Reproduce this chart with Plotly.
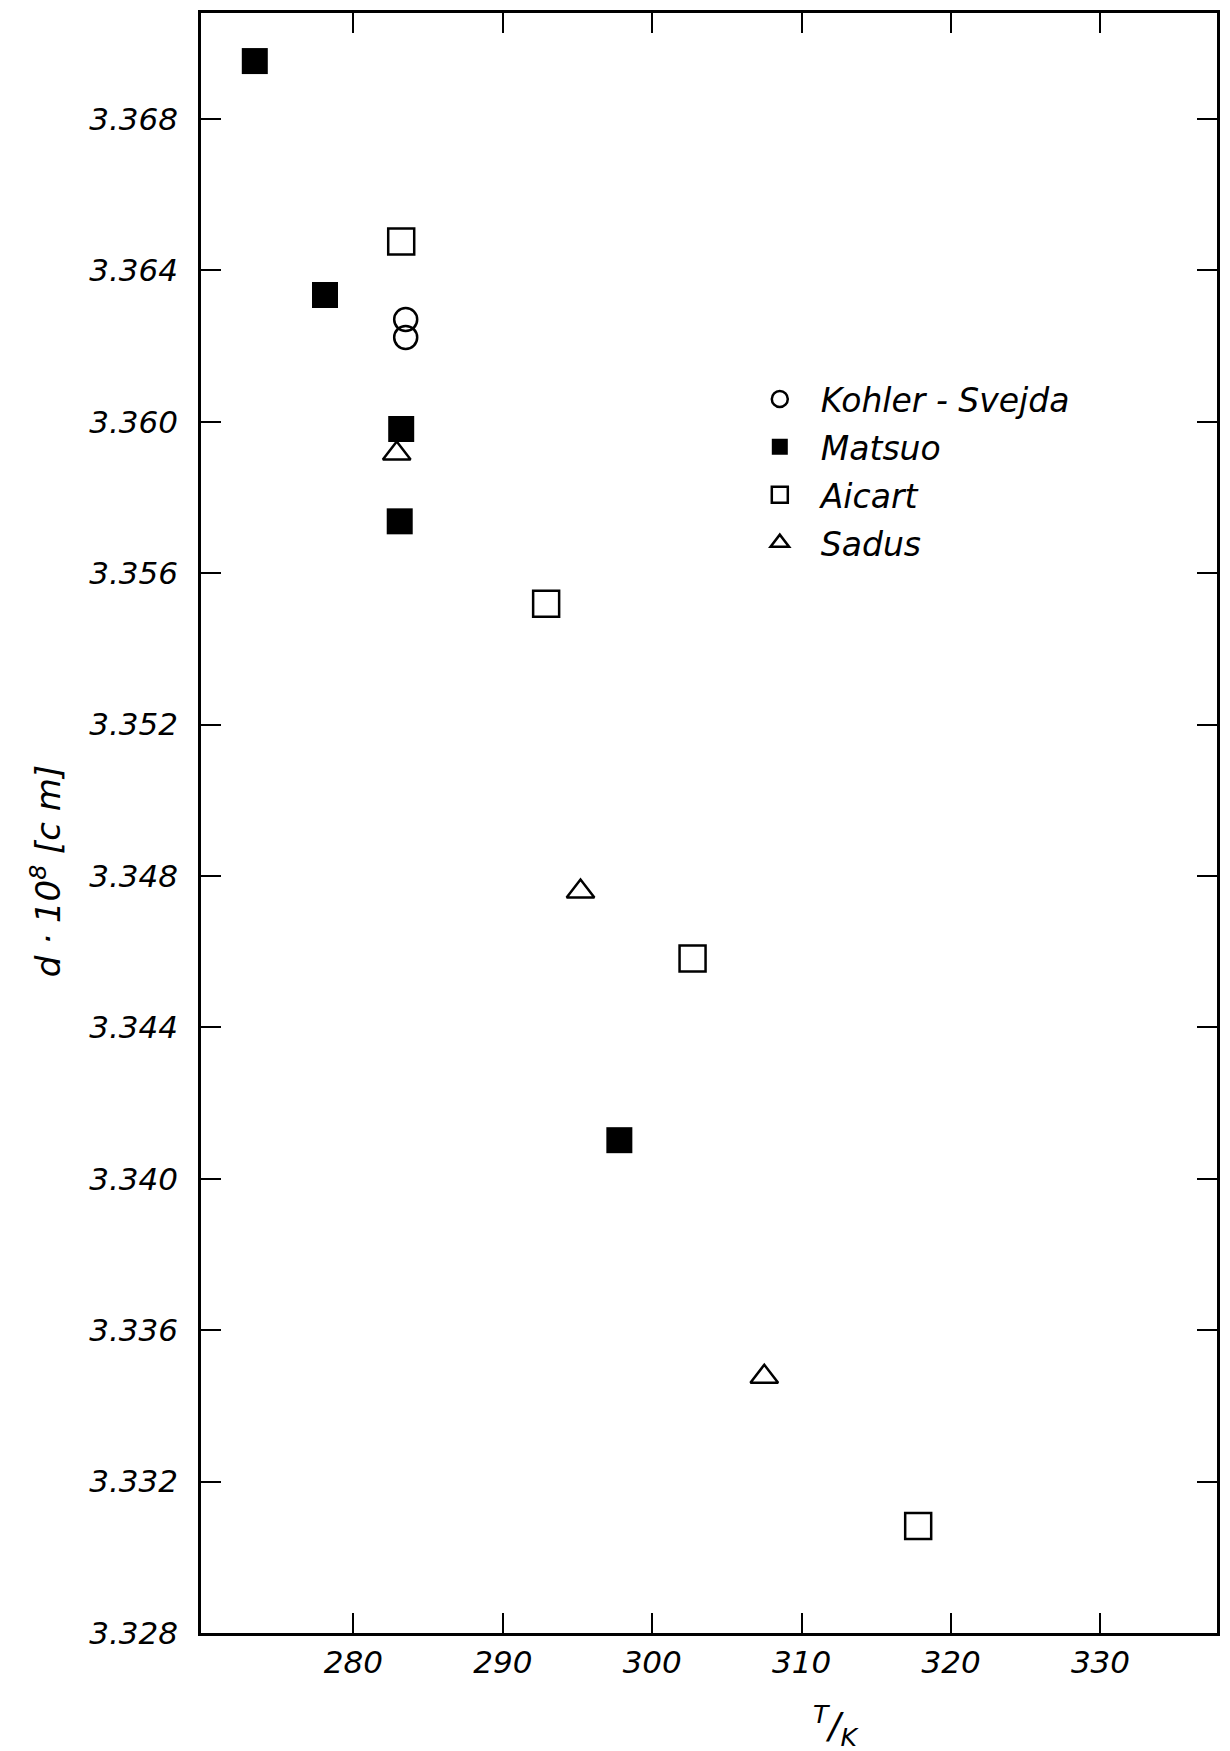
import plotly.graph_objects as go

# Data (T in K, d*1e8 in cm)
kohler_T = [283.5, 283.5]
kohler_d = [3.36270, 3.36223]

matsuo_T = [273.4, 278.1, 283.2, 283.1, 297.8]
matsuo_d = [3.36953, 3.36335, 3.35981, 3.35737, 3.34102]

aicart_T = [283.2, 292.9, 302.7, 317.8]
aicart_d = [3.36476, 3.35519, 3.34582, 3.33083]

sadus_T = [282.9, 295.2, 307.5]
sadus_d = [3.35916, 3.34759, 3.33477]

x_ticks = [280, 290, 300, 310, 320, 330]
y_ticks = [3.328, 3.332, 3.336, 3.340, 3.344, 3.348, 3.352, 3.356, 3.360, 3.364, 3.368]

FONT = "DejaVu Sans"
NB = "\u00a0"

fig = go.Figure()
fig.add_trace(go.Scatter(x=kohler_T, y=kohler_d, mode="markers", name=NB * 2 + "Kohler - Svejda",
                         legendgroup="a",
                         marker=dict(symbol="circle-open", size=23, color="black",
                                     line=dict(width=2.5, color="black"))))
fig.add_trace(go.Scatter(x=matsuo_T, y=matsuo_d, mode="markers", name=NB * 2 + "Matsuo",
                         legendgroup="b",
                         marker=dict(symbol="square", size=26, color="black",
                                     line=dict(width=0))))
fig.add_trace(go.Scatter(x=aicart_T, y=aicart_d, mode="markers", name=NB * 2 + "Aicart",
                         legendgroup="c",
                         marker=dict(symbol="square-open", size=26, color="black",
                                     line=dict(width=2.5, color="black"))))
fig.add_trace(go.Scatter(x=sadus_T, y=sadus_d, mode="markers", name=NB * 2 + "Sadus",
                         legendgroup="d",
                         marker=dict(symbol="triangle-up-open", size=24, color="black",
                                     line=dict(width=2.5, color="black"))))

axis_common = dict(
    showgrid=False, zeroline=False, showline=True, linecolor="black", linewidth=2.5,
    mirror="ticks", ticks="inside", ticklen=20, tickwidth=2, tickcolor="black",
    tickfont=dict(family=FONT, size=31, color="black", style="italic"),
)

fig.update_xaxes(range=[269.8, 337.8], tickvals=x_ticks,
                 ticktext=[str(v) for v in x_ticks], **axis_common)
fig.update_yaxes(range=[3.328, 3.3708], tickvals=y_ticks,
                 ticktext=[f"{v:.3f}" for v in y_ticks], ticklabelstandoff=14,
                 **axis_common)

fig.update_layout(
    width=1230, height=1751,
    margin=dict(l=201, r=10, t=11, b=118),
    plot_bgcolor="white", paper_bgcolor="white",
    showlegend=True,
    legend=dict(x=0.55, y=0.779, xanchor="left", yanchor="top",
                bgcolor="rgba(0,0,0,0)", borderwidth=0,
                font=dict(family=FONT, size=33, color="black", style="italic"),
                tracegroupgap=2, itemsizing="trace"),
    annotations=[
        dict(text="d · 10<sup>8</sup> [c m]", xref="paper", yref="paper",
             x=-0.153, y=0.47, textangle=-90, showarrow=False,
             font=dict(family=FONT, size=34, color="black", style="italic"),
             xanchor="center", yanchor="middle"),
        dict(text="<sup>T</sup>/<sub>K</sub>", xref="paper", yref="paper",
             x=0.625, y=-0.0745, showarrow=False,
             font=dict(family=FONT, size=36, color="black", style="italic"),
             xanchor="center", yanchor="bottom"),
    ],
)

fig.write_html("out.html")
